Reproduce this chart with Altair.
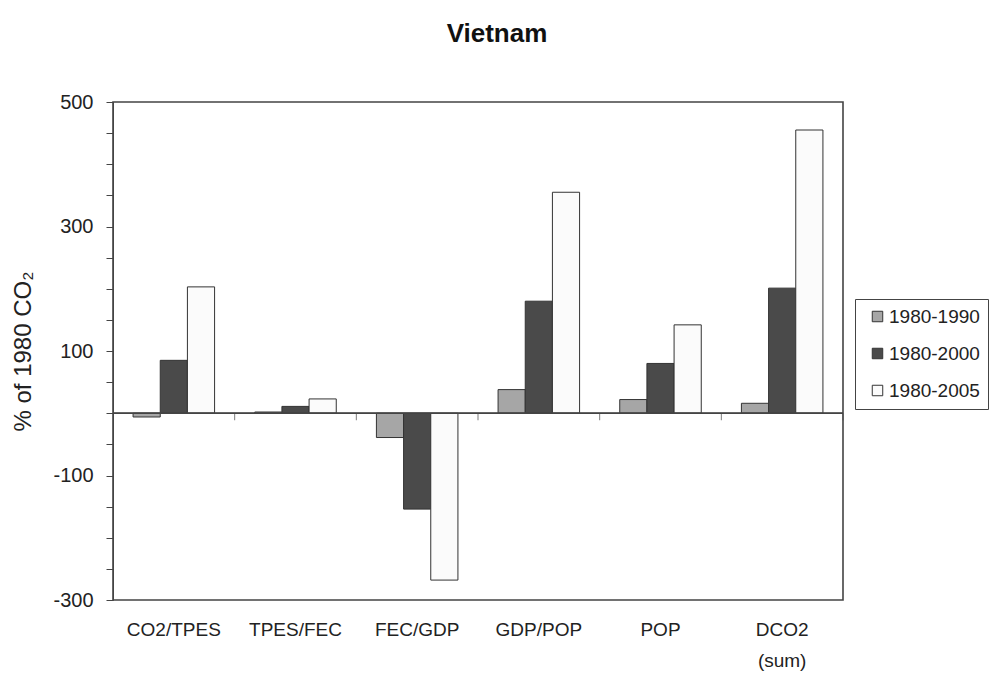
import altair as alt
import pandas as pd

# Decomposition of CO2 change, % of 1980 emissions
categories = ["CO2/TPES", "TPES/FEC", "FEC/GDP", "GDP/POP", "POP", "DCO2 (sum)"]
periods = ["1980-1990", "1980-2000", "1980-2005"]
change_1990 = [-6, 2, -39, 38, 22, 16]
change_2000 = [85, 11, -154, 180, 80, 201]
change_2005 = [203, 23, -268, 355, 142, 455]
y_ticks = list(range(-300, 501, 50))

rows = []
for period, values in zip(periods, [change_1990, change_2000, change_2005]):
    for cat, v in zip(categories, values):
        rows.append({"category": cat, "period": period, "value": v})
df = pd.DataFrame(rows)
cat_df = pd.DataFrame({"category": categories})

FONT = "Liberation Sans"
PAD_INNER = 0.33
PLOT_W = 730

x_enc = alt.X(
    "category:N",
    sort=categories,
    scale=alt.Scale(paddingInner=PAD_INNER, paddingOuter=PAD_INNER / 2),
    axis=alt.Axis(
        title=None,
        ticks=False,
        domain=False,
        labelAngle=0,
        labelPadding=20,
        labelFontSize=19,
        labelFont=FONT,
        labelColor="#222",
        labelLineHeight=31,
        labelBaseline="top",
        labelExpr="split(datum.label, ' ')",
    ),
)

y_scale = alt.Scale(domain=[-300, 500], nice=False, zero=False)

# one axis definition shared by every layer so the merged axis keeps all settings
y_axis = alt.Axis(
    title="% of 1980 CO₂",
    titleFont=FONT,
    titleFontSize=24,
    titleFontWeight="normal",
    titleColor="#222",
    titlePadding=17,
    values=y_ticks,
    labelOverlap=False,
    labelExpr="(datum.value % 200 == 100 || datum.value % 200 == -100) ? replace(datum.label, '\u2212', '-') : ''",
    labelFont=FONT,
    labelFontSize=20,
    labelColor="#222",
    labelPadding=13,
    tickSize=7,
    tickColor="#444",
    domainColor="#444",
    grid=False,
)

bars = alt.Chart(df).mark_bar(stroke="#333", strokeWidth=1).encode(
    x=x_enc,
    xOffset=alt.XOffset("period:N", sort=periods, scale=alt.Scale(paddingInner=0, paddingOuter=0)),
    y=alt.Y("value:Q", scale=y_scale, axis=y_axis),
    y2=alt.datum(0),
    color=alt.Color(
        "period:N",
        sort=periods,
        scale=alt.Scale(domain=periods, range=["#a6a6a6", "#4a4a4a", "#fbfbfb"]),
        legend=alt.Legend(
            title=None,
            orient="none",
            legendX=742,
            legendY=197,
            symbolType="square",
            symbolSize=110,
            symbolOffset=5,
            symbolStrokeColor="#333",
            symbolStrokeWidth=1,
            symbolOpacity=1,
            labelFont=FONT,
            labelFontSize=19,
            labelColor="#222",
            labelOffset=2,
            rowPadding=17,
            padding=8,
            strokeColor="#444",
            fillColor="white",
        ),
    ),
)

# horizontal line through zero
zero_line = alt.Chart(cat_df).mark_rule(color="#444", strokeWidth=1).encode(
    y=alt.YDatum(0, scale=y_scale, axis=y_axis)
)

# separators between category groups, hanging below the zero line:
# from the start of each band, moved past the band and half the gap after it
step = PLOT_W / len(categories)
sep_shift = step - step * PAD_INNER / 2
separators = alt.Chart(cat_df).mark_tick(
    orient="vertical", size=7, thickness=1, color="#444"
).encode(
    x=alt.X("category:N", sort=categories, bandPosition=0),
    xOffset=alt.value(sep_shift),
    y=alt.YDatum(0, scale=y_scale, axis=y_axis),
    yOffset=alt.value(3.5),
)

chart = alt.layer(bars, zero_line, separators).properties(
    width=PLOT_W,
    height=498,
    padding={"left": 113, "top": 102, "right": 146, "bottom": 80},
    autosize="none",
    background="white",
    title=alt.TitleParams(
        "Vietnam",
        font=FONT,
        fontSize=26,
        fontWeight="bold",
        color="#111",
        anchor="middle",
        dx=19,
        offset=45,
    ),
).configure_view(stroke="#444", strokeWidth=1.6)

chart.save("out.html", embed_options={"renderer": "svg", "actions": False})
